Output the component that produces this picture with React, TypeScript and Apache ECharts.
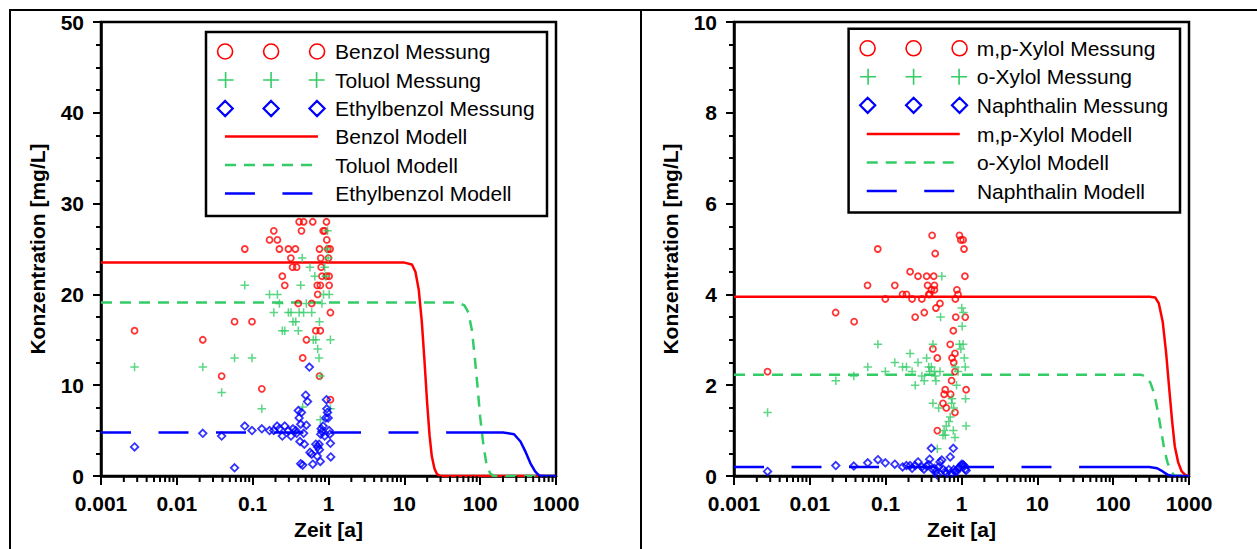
import React, { useEffect, useRef } from "react";
import * as echarts from "echarts";

const FONT = "'Liberation Sans', Arial, sans-serif";
const RED = "#ff0000";
const GREEN = "#33cc66";
const BLUE = "#0000ff";

// ---------- Left panel data ----------
const benzolMessung: number[][] = [
  [0.00277, 16], [0.022, 15], [0.039, 11], [0.0577, 17], [0.0787, 25], [0.098, 17], [0.132, 9.6],
  [0.167, 26], [0.19, 27], [0.212, 26], [0.225, 25], [0.246, 22], [0.265, 21], [0.296, 25],
  [0.319, 24], [0.336, 23], [0.366, 25], [0.38, 23], [0.399, 19], [0.41, 28], [0.44, 27],
  [0.457, 13], [0.47, 28], [0.512, 15], [0.6, 19], [0.62, 28], [0.68, 16], [0.72, 20],
  [0.71, 21], [0.76, 25], [0.78, 21], [0.79, 24], [0.8, 23], [0.82, 22], [0.76, 11], [0.78, 16],
  [0.85, 27], [0.89, 27], [0.94, 28], [0.95, 26], [0.98, 25], [1.0, 24], [1.02, 22], [0.94, 22],
  [1.02, 21], [1.06, 18], [1.06, 8.4], [1.05, 25],
];
const toluolMessung: number[][] = [
  [0.00277, 12], [0.022, 12], [0.039, 9.2], [0.0577, 13], [0.0787, 21], [0.098, 13], [0.132, 7.4],
  [0.167, 20], [0.19, 18], [0.212, 20], [0.225, 19], [0.246, 16], [0.265, 16], [0.296, 18],
  [0.32, 18], [0.34, 17], [0.37, 17], [0.4, 16], [0.41, 18], [0.43, 21], [0.45, 24], [0.47, 18],
  [0.51, 19], [0.57, 23], [0.6, 18], [0.63, 15], [0.66, 22], [0.68, 15], [0.72, 14], [0.75, 13],
  [0.76, 17], [0.78, 11], [0.78, 6.2], [0.82, 19], [0.86, 20], [0.89, 23], [0.92, 22], [0.95, 25],
  [0.97, 27], [0.99, 24], [1.02, 20], [1.06, 15], [1.06, 7.4], [0.457, 7.6],
];
const ethylbenzolMessung: number[][] = [
  [0.00277, 3.2], [0.022, 4.7], [0.039, 4.4], [0.0577, 0.9], [0.0787, 5.5], [0.098, 5.0], [0.132, 5.2],
  [0.167, 5.0], [0.19, 5.0], [0.21, 5.5], [0.225, 5.2], [0.246, 4.4], [0.265, 5.5], [0.296, 5.0],
  [0.32, 4.4], [0.34, 5.2], [0.37, 5.0], [0.38, 4.7], [0.4, 7.2], [0.41, 6.4], [0.42, 3.8],
  [0.43, 5.7], [0.43, 1.35], [0.44, 7.0], [0.457, 1.2], [0.47, 4.7], [0.48, 3.5], [0.5, 8.9],
  [0.51, 5.6], [0.53, 8.2], [0.56, 12], [0.57, 2.6], [0.6, 2.4], [0.62, 1.3], [0.68, 3.5],
  [0.71, 2.2], [0.72, 3.2], [0.75, 3.5], [0.76, 2.9], [0.78, 1.6], [0.79, 4.6], [0.8, 5.2],
  [0.82, 4.9], [0.85, 5.5], [0.89, 4.4], [0.92, 6.4], [0.94, 8.4], [0.95, 7.4], [0.97, 7.0],
  [0.99, 6.4], [1.02, 5.0], [1.04, 4.6], [1.06, 3.6], [1.07, 2.1],
];
const benzolModell: number[][] = [
  [0.001, 23.5], [10, 23.5], [12.6, 23.3], [14, 22.5], [15.5, 20.5], [17, 17], [18.5, 12.5],
  [20, 8], [21.5, 4.5], [23, 2.2], [25, 0.8], [27, 0.2], [30, 0], [1000, 0],
];
const toluolModell: number[][] = [
  [0.001, 19.1], [50, 19.1], [62, 18.8], [70, 18], [78, 16], [85, 13], [92, 10], [100, 6.5],
  [110, 3.5], [120, 1.5], [135, 0.3], [150, 0], [1000, 0],
];
// long-dash part and the continuous tail of the same model curve
const ethylbenzolModellDash: number[][] = [[0.001, 4.8], [35.6, 4.8]];
const ethylbenzolModellTail: number[][] = [
  [35.6, 4.8], [200, 4.8], [280, 4.6], [340, 3.8], [400, 2.6], [460, 1.4], [530, 0.5],
  [600, 0.05], [700, 0], [1000, 0],
];

// ---------- Right panel data ----------
const mpXylolMessung: number[][] = [
  [0.00277, 2.3], [0.0219, 3.6], [0.0384, 3.4], [0.0577, 4.2], [0.0787, 5.0], [0.099, 3.9],
  [0.132, 4.2], [0.167, 4.0], [0.188, 4.0], [0.21, 4.5], [0.223, 3.9], [0.245, 3.5], [0.267, 4.4],
  [0.3, 3.9], [0.323, 3.6], [0.347, 4.4], [0.357, 4.2], [0.37, 4.0], [0.38, 4.0], [0.4, 4.1],
  [0.41, 5.3], [0.42, 2.8], [0.43, 4.4], [0.44, 4.2], [0.44, 4.1], [0.45, 4.9], [0.46, 3.7],
  [0.48, 2.6], [0.48, 1.0], [0.52, 3.8], [0.57, 1.6], [0.59, 1.8], [0.61, 1.9], [0.63, 1.5],
  [0.72, 1.8], [0.71, 2.9], [0.74, 2.1], [0.75, 2.6], [0.78, 3.2], [0.79, 2.5], [0.82, 2.7],
  [0.82, 2.3], [0.84, 3.5], [0.83, 3.9], [0.87, 4.1], [0.9, 4.0], [0.82, 1.4], [0.94, 5.3],
  [0.98, 5.2], [1.05, 5.2], [1.08, 5.0], [1.11, 4.4], [1.12, 3.5], [1.15, 1.9],
];
const oXylolMessung: number[][] = [
  [0.00277, 1.4], [0.022, 2.1], [0.038, 2.2], [0.058, 2.4], [0.079, 2.9], [0.099, 2.3], [0.132, 2.5],
  [0.167, 2.4], [0.188, 2.4], [0.21, 2.7], [0.223, 2.3], [0.245, 2.0], [0.267, 2.5], [0.3, 2.2],
  [0.323, 2.1], [0.347, 2.6], [0.37, 2.4], [0.38, 2.3], [0.4, 2.4], [0.42, 2.9], [0.42, 1.6],
  [0.44, 2.3], [0.45, 2.2], [0.46, 2.1], [0.48, 0.6], [0.5, 1.5], [0.52, 2.3], [0.53, 3.5],
  [0.55, 4.4], [0.57, 0.9], [0.59, 1.0], [0.61, 0.9], [0.63, 1.1], [0.68, 1.2], [0.71, 1.3],
  [0.74, 1.6], [0.75, 1.7], [0.78, 1.0], [0.79, 1.5], [0.82, 0.85], [0.83, 2.4], [0.86, 2.0],
  [0.9, 2.3], [0.94, 2.9], [0.98, 2.8], [1.01, 3.7], [1.02, 3.3], [1.05, 2.9], [1.06, 3.6],
  [1.09, 2.6], [1.12, 2.4], [1.13, 1.7], [1.15, 1.1],
];
const naphthalinMessung: number[][] = [
  [0.00277, 0.1], [0.022, 0.23], [0.038, 0.22], [0.058, 0.29], [0.079, 0.36], [0.099, 0.29],
  [0.132, 0.26], [0.167, 0.2], [0.188, 0.23], [0.21, 0.23], [0.223, 0.17], [0.245, 0.23],
  [0.267, 0.31], [0.3, 0.2], [0.32, 0.15], [0.347, 0.22], [0.37, 0.25], [0.38, 0.37], [0.4, 0.61],
  [0.42, 0.14], [0.44, 0.17], [0.46, 0.1], [0.48, 0.02], [0.5, 0.2], [0.52, 0.31], [0.55, 0.35],
  [0.57, 0.15], [0.61, 0.1], [0.63, 0.06], [0.68, 0.14], [0.71, 0.42], [0.74, 0.06], [0.78, 0.61],
  [0.79, 0.14], [0.82, 0.1], [0.86, 0.1], [0.9, 0.16], [0.94, 0.19], [0.98, 0.23], [1.01, 0.26],
  [1.05, 0.25], [1.09, 0.22], [1.12, 0.15], [1.15, 0.12],
];
const mpXylolModell: number[][] = [
  [0.001, 3.95], [300, 3.95], [360, 3.93], [400, 3.8], [450, 3.4], [500, 2.7], [550, 1.9],
  [600, 1.2], [650, 0.65], [720, 0.3], [800, 0.1], [900, 0.02], [1000, 0],
];
const oXylolModell: number[][] = [
  [0.001, 2.23], [230, 2.23], [270, 2.2], [310, 2.05], [350, 1.8], [390, 1.4], [430, 1.0],
  [470, 0.6], [520, 0.3], [580, 0.1], [650, 0], [1000, 0],
];
const naphthalinModellDash: number[][] = [[0.001, 0.2], [35.6, 0.2]];
const naphthalinModellTail: number[][] = [
  [35.6, 0.2], [300, 0.2], [380, 0.17], [450, 0.1], [520, 0.03], [600, 0], [1000, 0],
];

// axis tick values
const xDecades = [0.001, 0.01, 0.1, 1, 10, 100];
const minorMultipliers = [2, 3, 4, 5, 6, 7, 8, 9];
const xMinorTicks: number[] = [];
xDecades.forEach((d) => minorMultipliers.forEach((m) => xMinorTicks.push(Number((d * m).toPrecision(6)))));

const ICON_CIRCLES =
  "path://M0,8a7.5,7.5 0 1,0 15,0a7.5,7.5 0 1,0 -15,0M46,8a7.5,7.5 0 1,0 15,0a7.5,7.5 0 1,0 -15,0M92,8a7.5,7.5 0 1,0 15,0a7.5,7.5 0 1,0 -15,0";
const ICON_PLUS =
  "path://M0,8L16,8M8,0L8,16M45.5,8L61.5,8M53.5,0L53.5,16M91,8L107,8M99,0L99,16";
const ICON_DIAMONDS =
  "path://M8,0.5L15.5,8L8,15.5L0.5,8ZM53.5,0.5L61,8L53.5,15.5L46,8ZM99,0.5L106.5,8L99,15.5L91.5,8Z";
const PLUS_SYMBOL = "path://M0,5L10,5M5,0L5,10";

const fmtX = (v: number) => String(Number(v.toPrecision(6)));

function makeAxes(gi: number, yMax: number, yInterval: number) {
  const x = {
    type: "log",
    logBase: 10,
    gridIndex: gi,
    min: 0.001,
    max: 1000,
    axisLine: { show: true, onZero: false, lineStyle: { color: "#000", width: 2.5 } },
    axisTick: { show: true, length: 9, lineStyle: { color: "#000", width: 2 } },
    minorTick: { show: false },
    splitLine: { show: false },
    axisLabel: {
      formatter: fmtX,
      fontSize: 21,
      fontWeight: "bold",
      fontFamily: FONT,
      color: "#000",
      margin: 17,
    },
    name: "Zeit [a]",
    nameLocation: "middle",
    nameGap: 42,
    nameTextStyle: { fontSize: 21, fontWeight: "bold", fontFamily: FONT, color: "#000" },
  };
  const y = {
    type: "value",
    gridIndex: gi,
    min: 0,
    max: yMax,
    interval: yInterval,
    axisLine: { show: true, onZero: false, lineStyle: { color: "#000", width: 2.5 } },
    axisTick: { show: true, length: 8, lineStyle: { color: "#000", width: 2 } },
    minorTick: { show: true, splitNumber: 4, length: 5, lineStyle: { color: "#000", width: 2 } },
    splitLine: { show: false },
    axisLabel: { fontSize: 21, fontWeight: "bold", fontFamily: FONT, color: "#000", margin: 17 },
    name: "Konzentration [mg/L]",
    nameLocation: "middle",
    nameGap: 53,
    nameTextStyle: { fontSize: 21, fontWeight: "bold", fontFamily: FONT, color: "#000" },
  };
  return { x, y };
}

function scatter(name: string, data: number[][], gi: number, kind: "circle" | "plus" | "diamond", color: string) {
  return {
    type: "scatter",
    name,
    xAxisIndex: gi,
    yAxisIndex: gi,
    data,
    symbol: kind === "circle" ? "circle" : kind === "plus" ? PLUS_SYMBOL : "diamond",
    symbolSize: kind === "circle" ? 6 : kind === "plus" ? 8.5 : [7.5, 7.5],
    itemStyle: {
      color: "transparent",
      borderColor: color,
      borderWidth: kind === "plus" ? 1.5 : 1.8,
    },
    z: 3,
  };
}

function modelLine(name: string, data: number[][], gi: number, color: string, type: any) {
  return {
    type: "line",
    name,
    xAxisIndex: gi,
    yAxisIndex: gi,
    data,
    symbol: "none",
    showSymbol: false,
    lineStyle: { color, width: 2.5, type },
    itemStyle: { color },
    z: 2,
  };
}

function minorTickSeries(gi: number) {
  return {
    type: "custom",
    xAxisIndex: gi,
    yAxisIndex: gi,
    data: xMinorTicks.map((v) => [v, 0]),
    clip: false,
    silent: true,
    z: 5,
    renderItem: (_params: any, api: any) => {
      const p = api.coord([api.value(0), api.value(1)]);
      return {
        type: "line",
        shape: { x1: p[0], y1: p[1], x2: p[0], y2: p[1] + 6 },
        style: { stroke: "#000", lineWidth: 2 },
      };
    },
  };
}

function scatterLegend(left: number, top: number, names: string[], colors: string[], icons: string[], padLeft: number) {
  return {
    orient: "vertical",
    left,
    top,
    padding: 0,
    itemWidth: 107,
    itemHeight: 16,
    itemGap: 7.5,
    symbolKeepAspect: true,
    selectedMode: false,
    z: 10,
    textStyle: { fontSize: 21, lineHeight: 21, fontFamily: FONT, color: "#000", padding: [0, 0, 0, padLeft] },
    data: names.map((n, i) => ({
      name: n,
      icon: icons[i],
      itemStyle: { color: "transparent", borderColor: colors[i], borderWidth: i === 2 ? 2.2 : 1.6, opacity: 1 },
    })),
  };
}

function lineLegend(left: number, top: number, names: string[], padLeft: number) {
  return {
    orient: "vertical",
    left,
    top,
    padding: 0,
    itemWidth: 93,
    itemHeight: 16,
    itemGap: 7.5,
    selectedMode: false,
    z: 10,
    lineStyle: { width: 2.5 },
    textStyle: { fontSize: 21, lineHeight: 21, fontFamily: FONT, color: "#000", padding: [0, 0, 0, padLeft] },
    data: names.map((n) => ({ name: n, itemStyle: { opacity: 0 } })),
  };
}

export default function App() {
  const ref = useRef<HTMLDivElement>(null);
  useEffect(() => {
    if (!ref.current) return;
    const chart = echarts.init(ref.current, null, { renderer: "svg" });
    const a0 = makeAxes(0, 50, 10);
    const a1 = makeAxes(1, 10, 2);
    const SHORT_DASH = [11, 8];
    const LONG_DASH = [30, 27.5];
    chart.setOption({
      animation: false,
      backgroundColor: "#fff",
      textStyle: { fontFamily: FONT },
      grid: [
        { left: 101, top: 22, width: 455, height: 454, show: true, borderColor: "#000", borderWidth: 2.5, backgroundColor: "transparent" },
        { left: 734, top: 22, width: 455, height: 454, show: true, borderColor: "#000", borderWidth: 2.5, backgroundColor: "transparent" },
      ],
      xAxis: [a0.x, a1.x],
      yAxis: [a0.y, a1.y],
      legend: [
        scatterLegend(216.5, 41, ["Benzol Messung", "Toluol Messung", "Ethylbenzol Messung"], [RED, GREEN, BLUE], [ICON_CIRCLES, ICON_PLUS, ICON_DIAMONDS], 5.5),
        lineLegend(223.7, 126, ["Benzol Modell", "Toluol Modell", "Ethylbenzol Modell"], 12.3),
        scatterLegend(859, 37.8, ["m,p-Xylol Messung", "o-Xylol Messung", "Naphthalin Messung"], [RED, GREEN, BLUE], [ICON_CIRCLES, ICON_PLUS, ICON_DIAMONDS], 4.7),
        lineLegend(865.5, 123.5, ["m,p-Xylol Modell", "o-Xylol Modell", "Naphthalin Modell"], 12.2),
      ],
      graphic: [
        { type: "line", shape: { x1: 9, y1: 10, x2: 1257, y2: 10 }, style: { stroke: "#000", lineWidth: 2 }, z: 1 },
        { type: "line", shape: { x1: 10, y1: 9, x2: 10, y2: 549 }, style: { stroke: "#000", lineWidth: 2 }, z: 1 },
        { type: "line", shape: { x1: 641, y1: 9, x2: 641, y2: 549 }, style: { stroke: "#000", lineWidth: 2 }, z: 1 },
        { type: "rect", shape: { x: 206, y: 32, width: 341, height: 184 }, style: { fill: "#fff", stroke: "#000", lineWidth: 2.5 }, z: 5 },
        { type: "rect", shape: { x: 848.6, y: 28.7, width: 331.4, height: 183.8 }, style: { fill: "#fff", stroke: "#000", lineWidth: 2.5 }, z: 5 },
      ],
      series: [
        modelLine("Benzol Modell", benzolModell, 0, RED, "solid"),
        modelLine("Toluol Modell", toluolModell, 0, GREEN, SHORT_DASH),
        modelLine("Ethylbenzol Modell", ethylbenzolModellDash, 0, BLUE, LONG_DASH),
        modelLine("Ethylbenzol Modell", ethylbenzolModellTail, 0, BLUE, "solid"),
        scatter("Benzol Messung", benzolMessung, 0, "circle", RED),
        scatter("Toluol Messung", toluolMessung, 0, "plus", GREEN),
        scatter("Ethylbenzol Messung", ethylbenzolMessung, 0, "diamond", BLUE),
        modelLine("m,p-Xylol Modell", mpXylolModell, 1, RED, "solid"),
        modelLine("o-Xylol Modell", oXylolModell, 1, GREEN, SHORT_DASH),
        modelLine("Naphthalin Modell", naphthalinModellDash, 1, BLUE, LONG_DASH),
        modelLine("Naphthalin Modell", naphthalinModellTail, 1, BLUE, "solid"),
        scatter("m,p-Xylol Messung", mpXylolMessung, 1, "circle", RED),
        scatter("o-Xylol Messung", oXylolMessung, 1, "plus", GREEN),
        scatter("Naphthalin Messung", naphthalinMessung, 1, "diamond", BLUE),
        minorTickSeries(0),
        minorTickSeries(1),
      ],
    });
    return () => chart.dispose();
  }, []);
  return <div ref={ref} style={{ position: "fixed", left: 0, top: 0, width: 1257, height: 549 }} />;
}
